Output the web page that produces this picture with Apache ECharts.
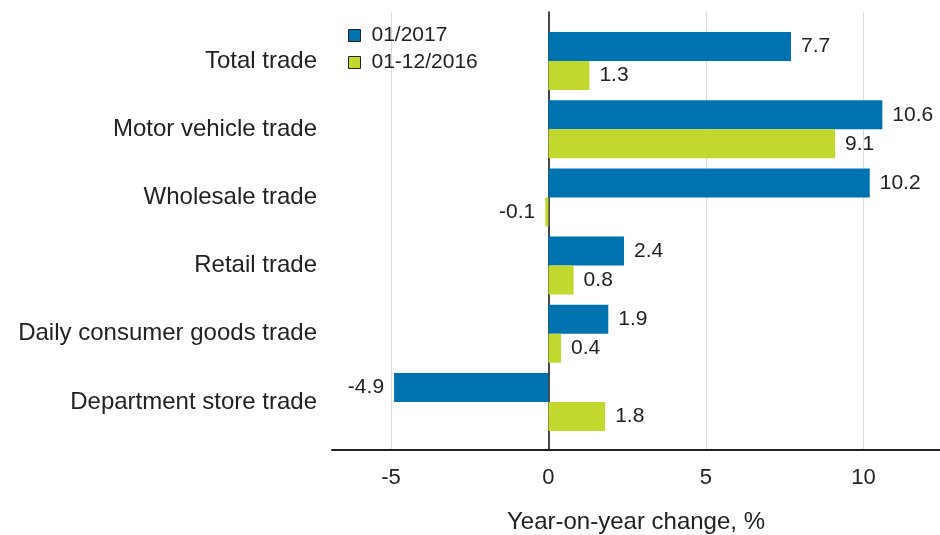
<!DOCTYPE html>
<html>
<head>
<meta charset="utf-8">
<script src="https://cdn.jsdelivr.net/npm/echarts@6/dist/echarts.min.js"></script>
<style>
  html, body { margin: 0; padding: 0; background: #fff; }
  #chart { width: 940px; height: 535px; }
</style>
</head>
<body>
<div id="chart"></div>
<script>
// categories top to bottom
const categories = ['Total trade', 'Motor vehicle trade', 'Wholesale trade', 'Retail trade', 'Daily consumer goods trade', 'Department store trade'];
const seriesNames = ['01/2017', '01-12/2016'];
const jan2017 = [7.7, 10.6, 10.2, 2.4, 1.9, -4.9];
const year2016 = [1.3, 9.1, -0.1, 0.8, 0.4, 1.8];
const xTicks = [-5, 0, 5, 10];
const xMin = -6.87, xMax = 12.43;

const font = 'Liberation Sans, Arial, sans-serif';
const txt = '#222';

function withLabels(arr) {// negatives get their label on the left
  return arr.map(v => ({ value: v, label: { position: v < 0 ? 'left' : 'right' } }));
}

const chart = echarts.init(document.getElementById('chart'), null, { renderer: 'canvas' });
chart.setOption({
  animation: false,
  textStyle: { fontFamily: font },
  legend: {
    data: seriesNames,
    orient: 'vertical',
    left: 348, top: 25,
    padding: 0,
    itemGap: 6,
    itemWidth: 12, itemHeight: 12,
    icon: 'rect',
    itemStyle: { borderColor: '#222', borderWidth: 1 },
    textStyle: { fontSize: 21, color: txt, fontFamily: font, padding: [0, 0, 0, 6] }
  },
  grid: [
    // frame: gridlines, axes
    { left: 332, right: 0, top: 12, bottom: 85, outerBoundsMode: 'none', containLabel: false },
    // bars
    { left: 332, right: 0, top: 27, height: 409, outerBoundsMode: 'none', containLabel: false }
  ],
  xAxis: [
    {
      gridIndex: 0, type: 'value', min: xMin, max: xMax,
      axisLine: { onZero: false, lineStyle: { color: '#222', width: 2 } },
      axisTick: { show: false, customValues: xTicks },
      splitLine: { show: true, lineStyle: { color: '#d9d9d9', width: 1 } },
      axisLabel: { fontSize: 22, color: txt, margin: 17, customValues: xTicks },
      name: 'Year-on-year change, %',
      nameLocation: 'middle',
      nameGap: 60,
      nameTextStyle: { fontSize: 24, color: txt }
    },
    {
      gridIndex: 1, type: 'value', min: xMin, max: xMax, show: false,
      splitLine: { show: false }
    }
  ],
  yAxis: [
    {
      gridIndex: 0, type: 'value', min: 0, max: 1,
      axisLine: { show: true, onZero: true, lineStyle: { color: '#111', width: 1.5 } },
      axisTick: { show: false }, axisLabel: { show: false }, splitLine: { show: false }
    },
    {
      gridIndex: 1, type: 'category', inverse: true, data: categories,
      axisLine: { show: false, onZero: false }, axisTick: { show: false },
      axisLabel: { fontSize: 24, color: txt, margin: 15 }
    }
  ],
  series: [
    {
      name: seriesNames[0], type: 'bar', xAxisIndex: 1, yAxisIndex: 1,
      data: withLabels(jan2017),
      barWidth: 29, barGap: '0%',
      itemStyle: { color: '#0072b0' },
      label: { show: true, distance: 10, fontSize: 21, color: txt }
    },
    {
      name: seriesNames[1], type: 'bar', xAxisIndex: 1, yAxisIndex: 1,
      data: withLabels(year2016),
      barWidth: 29, barGap: '0%',
      itemStyle: { color: '#c3d82e' },
      label: { show: true, distance: 10, fontSize: 21, color: txt }
    }
  ]
});
</script>
</body>
</html>
